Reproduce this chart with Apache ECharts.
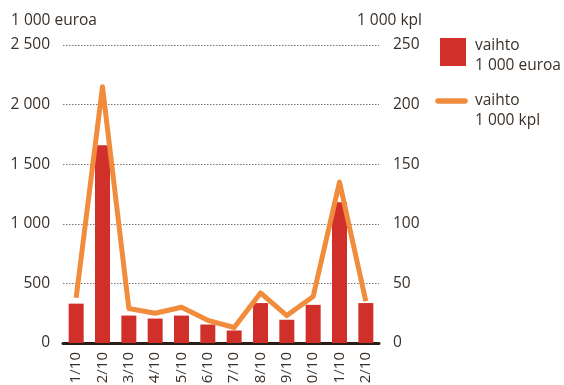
<!DOCTYPE html>
<html>
<head>
<meta charset="utf-8">
<script src="https://cdn.jsdelivr.net/npm/echarts@6/dist/echarts.min.js"></script>
<style>
  html, body { margin: 0; padding: 0; background: #fff; }
  #chart { width: 564px; height: 385px; }
</style>
</head>
<body>
<div id="chart"></div>
<script>
// Monthly data, January–December 2010
const categories = ['1/10', '2/10', '3/10', '4/10', '5/10', '6/10', '7/10', '8/10', '9/10', '10/10', '11/10', '12/10'];
const turnoverEur = [330, 1660, 230, 205, 230, 155, 105, 335, 195, 320, 1180, 335];   // 1 000 euroa
const turnoverPcs = [38, 215, 29, 25, 30, 19, 13, 42, 23, 39, 135, 35];               // 1 000 kpl
const leftTicks = { min: 0, max: 2500, step: 500 };
const rightTicks = { min: 0, max: 250, step: 50 };

const textColor = '#3a3029';
const font = 'Open Sans, Noto Sans, sans-serif';
const fontSize = 15.5;
const barColor = '#d12f2a';
const lineColor = '#f08c3c';

// Finnish-style thousands separator with a space
const fmt = v => String(v).replace(/\B(?=(\d{3})+(?!\d))/g, ' ');

const chart = echarts.init(document.getElementById('chart'), null, { renderer: 'canvas' });
chart.setOption({
  animation: false,
  backgroundColor: '#fff',
  textStyle: { fontFamily: font, color: textColor },
  grid: { left: 63, right: 185, top: 45, bottom: 42, containLabel: false, outerBoundsMode: 'none' },
  xAxis: {
    type: 'category',
    data: categories,
    axisLine: { lineStyle: { color: '#2b1e16', width: 3 } },
    axisTick: { show: false },
    axisLabel: { rotate: 90, margin: 9, fontSize: 15, color: textColor, fontFamily: font }
  },
  yAxis: [
    {
      type: 'value',
      name: '1 000 euroa',
      nameLocation: 'end',
      nameGap: 16,
      nameTextStyle: { align: 'left', padding: [0, 0, 0, -52], fontSize: fontSize, color: textColor, fontFamily: font },
      min: leftTicks.min, max: leftTicks.max, interval: leftTicks.step,
      axisLine: { show: false },
      axisTick: { show: false },
      axisLabel: { margin: 13, fontSize: fontSize, color: textColor, fontFamily: font, formatter: fmt },
      splitLine: { lineStyle: { type: [1.5, 1.5], color: '#7a726c', width: 1 } }
    },
    {
      type: 'value',
      name: '1 000 kpl',
      nameLocation: 'end',
      nameGap: 16,
      nameTextStyle: { align: 'right', padding: [0, -43, 0, 0], fontSize: fontSize, color: textColor, fontFamily: font },
      min: rightTicks.min, max: rightTicks.max, interval: rightTicks.step,
      axisLine: { show: false },
      axisTick: { show: false },
      axisLabel: { margin: 14, fontSize: fontSize, color: textColor, fontFamily: font },
      splitLine: { show: false }
    }
  ],
  series: [
    {
      name: 'vaihto 1 000 euroa',
      type: 'bar',
      yAxisIndex: 0,
      data: turnoverEur,
      barWidth: 15,
      itemStyle: { color: barColor }
    },
    {
      name: 'vaihto 1 000 kpl',
      type: 'line',
      yAxisIndex: 1,
      data: turnoverPcs,
      symbol: 'none',
      lineStyle: { color: lineColor, width: 5, join: 'round', cap: 'butt' },
      z: 5
    }
  ],
  graphic: [
    { type: 'rect', shape: { x: 440, y: 38, width: 26, height: 28 }, style: { fill: barColor } },
    { type: 'text', x: 475, y: 45.5, style: { text: 'vaihto', font: fontSize + 'px ' + font, fill: textColor, verticalAlign: 'middle' } },
    { type: 'text', x: 475, y: 65.5, style: { text: '1 000 euroa', font: fontSize + 'px ' + font, fill: textColor, verticalAlign: 'middle' } },
    { type: 'line', shape: { x1: 438, y1: 101, x2: 465, y2: 101 }, style: { stroke: lineColor, lineWidth: 5.5, lineCap: 'round' } },
    { type: 'text', x: 475, y: 100.5, style: { text: 'vaihto', font: fontSize + 'px ' + font, fill: textColor, verticalAlign: 'middle' } },
    { type: 'text', x: 475, y: 121, style: { text: '1 000 kpl', font: fontSize + 'px ' + font, fill: textColor, verticalAlign: 'middle' } }
  ]
});
</script>
</body>
</html>
